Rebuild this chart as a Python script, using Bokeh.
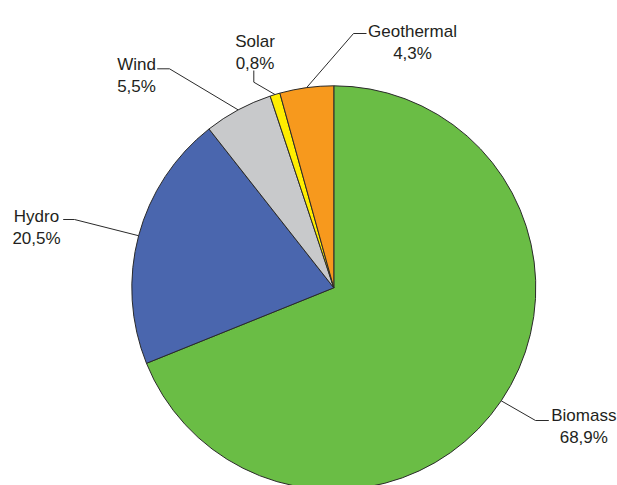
import math
from bokeh.plotting import figure
from bokeh.models import Range1d, ColumnDataSource
from bokeh.core.properties import value
from bokeh.embed import file_html
from bokeh.resources import INLINE

# ---- data ----
sources = ["Biomass", "Hydro", "Wind", "Solar", "Geothermal"]
shares = [68.9, 20.5, 5.5, 0.8, 4.3]
colors = ["#6abd45", "#4a66ae", "#c8c9cb", "#ffed00", "#f7991d"]

# ---- layout (page pixel coords) ----
W, H = 617, 485
PAGE_H = 485


def py(y):
    return PAGE_H - y


cx, cy, r = 333.3, py(287.3), 202.0
label_x = [583.3, 36.0, 136.0, 254.5, 412.0]
label_base1 = [415.0, 215.7, 64.0, 40.7, 31.0]
label_base2 = [436.7, 237.7, 86.0, 62.7, 52.5]
elbow = [(535.0, 420.0), (74.0, 219.0), (169.0, 68.3), (253.3, 81.7), (353.0, 33.0)]
tail = [(548.3, 420.0), (62.7, 219.0), (156.7, 68.3), (253.3, 70.0), (366.0, 33.0)]

p = figure(width=W, height=H, output_backend="svg", toolbar_location=None,
           x_range=Range1d(0, W), y_range=Range1d(0, H),
           min_border=0, outline_line_color=None)
p.axis.visible = False
p.grid.visible = False
p.background_fill_color = "white"
p.border_fill_color = "white"

total = sum(shares)
starts, ends, mids = [], [], []
cum = 0.0
for s in shares:
    a0 = math.pi / 2 - cum / total * 2 * math.pi
    cum += s
    a1 = math.pi / 2 - cum / total * 2 * math.pi
    starts.append(a0)
    ends.append(a1)
    mids.append((a0 + a1) / 2)

src = ColumnDataSource(dict(start=starts, end=ends, color=colors,
                            x=[cx] * len(shares), y=[cy] * len(shares)))
p.wedge(x="x", y="y", radius=r, start_angle="start", end_angle="end",
        direction="clock", fill_color="color", line_color="#2a2a2a",
        line_width=1, source=src)

# leader lines
for i, m in enumerate(mids):
    ex = cx + r * math.cos(m)
    ey = cy + r * math.sin(m)
    xs = [ex, elbow[i][0], tail[i][0]]
    ys = [ey, py(elbow[i][1]), py(tail[i][1])]
    p.line(xs, ys, line_color="#2a2a2a", line_width=1)

pct = [f"{v:.1f}".replace(".", ",") + "%" for v in shares]
txt = ColumnDataSource(dict(
    x=label_x + label_x,
    y=[py(b) for b in label_base1] + [py(b) for b in label_base2],
    t=sources + pct))
p.text(x="x", y="y", text="t", source=txt, text_align="center",
       text_baseline="alphabetic", text_font=value("Liberation Sans"),
       text_font_size="17px", text_color="#231f20")

open("out.html", "w").write(file_html(p, INLINE))
